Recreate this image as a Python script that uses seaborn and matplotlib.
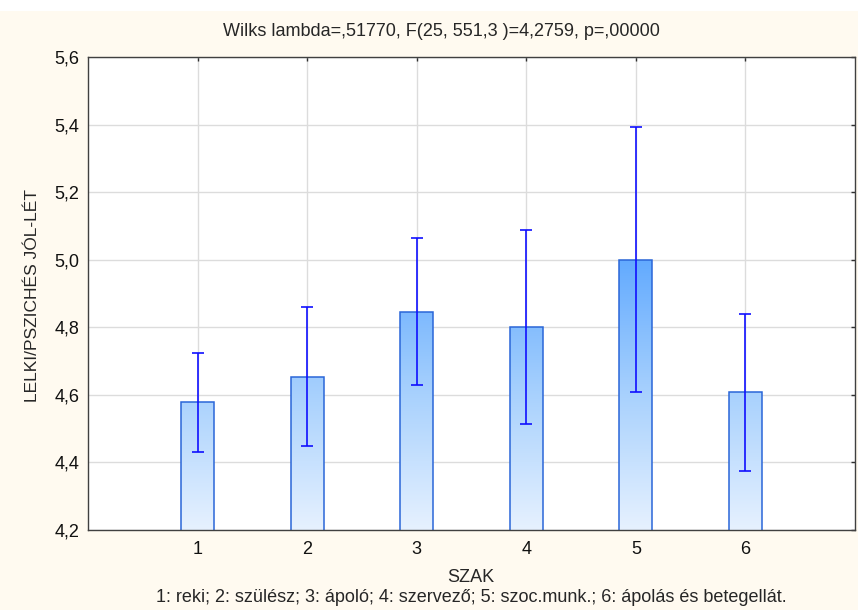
import numpy as np
import pandas as pd
import matplotlib
matplotlib.use("Agg")
import matplotlib.pyplot as plt
import seaborn as sns
from matplotlib.colors import LinearSegmentedColormap
from matplotlib.patches import Rectangle

sns.set_style("white")
plt.rcParams["font.family"] = ["Liberation Sans", "DejaVu Sans"]

# data
szak = [1, 2, 3, 4, 5, 6]
means = [4.578, 4.654, 4.846, 4.800, 5.000, 4.607]
ci_half = [0.147, 0.206, 0.217, 0.287, 0.393, 0.231]
y_ticks = [4.2, 4.4, 4.6, 4.8, 5.0, 5.2, 5.4, 5.6]
title = "Wilks lambda=,51770, F(25, 551,3 )=4,2759, p=,00000"
caption = "1: reki; 2: szülész; 3: ápoló; 4: szervező; 5: szoc.munk.; 6: ápolás és betegellát."

df = pd.DataFrame({"SZAK": szak, "mean": means})

cream = "#FFFAF0"
fig = plt.figure(figsize=(8.58, 6.10), dpi=100, facecolor=cream)
# white strip at the very top
fig.patches.append(Rectangle((0, 599 / 610), 1, 11 / 610, transform=fig.transFigure,
                             facecolor="white", edgecolor="none", zorder=0))
ax = fig.add_axes([88 / 858, 80 / 610, 767 / 858, 473 / 610])
ax.set_facecolor("white")

sns.barplot(data=df, x="SZAK", y="mean", native_scale=True, width=0.3,
            color="#A6D0FF", edgecolor="#2A66D8", linewidth=1.1,
            errorbar=None, ax=ax, zorder=2)

ax.set_xlim(0, 7)
ax.set_ylim(4.2, 5.6)

# vertical gradient fill, clipped to each bar
cmap = LinearSegmentedColormap.from_list(
    "grad", [(0.0, "#E6F1FF"), (0.4 / 1.4, "#A8D1FD"), (0.8 / 1.4, "#62AAFF"), (1.0, "#2C7CF0")])
grad = np.linspace(1, 0, 256).reshape(-1, 1)
for bar in ax.patches:
    im = ax.imshow(grad, cmap=cmap, vmin=0, vmax=1, aspect="auto",
                   extent=(bar.get_x(), bar.get_x() + bar.get_width(), 4.2, 5.6),
                   zorder=1.9)
    im.set_clip_path(bar)
    bar.set_facecolor("none")

ax.errorbar(szak, means, yerr=ci_half, fmt="none", ecolor="#1010FF",
            elinewidth=1.2, capsize=4, capthick=1.2, zorder=3)

ax.set_xticks(szak)
ax.set_yticks(y_ticks)
ax.set_yticklabels([f"{v:.1f}".replace(".", ",") for v in y_ticks])
ax.grid(True, color="#DCDCDC", linewidth=1)
ax.set_axisbelow(True)
ax.tick_params(direction="in", length=3, width=1, color="#303030",
               top=True, right=True, labelsize=13, labelcolor="#111111")
ax.tick_params(axis="x", pad=8)
ax.tick_params(axis="y", pad=6)
for s in ax.spines.values():
    s.set_color("#404040")
    s.set_linewidth(1)

ax.set_xlabel("")
ax.set_ylabel("")
fig.text(33 / 858, 1 - 295 / 610, "LELKI/PSZICHÉS JÓL-LÉT", rotation=90,
         ha="center", va="center", fontsize=12.5)
fig.text(441 / 858, 1 - 31 / 610, title, ha="center", va="center", fontsize=13)
fig.text(471 / 858, 1 - 578 / 610, "SZAK", ha="center", va="center", fontsize=13)
fig.text(471 / 858, 1 - 597 / 610, caption, ha="center", va="center", fontsize=13)

fig.savefig("out.png", dpi=100, facecolor=cream)
